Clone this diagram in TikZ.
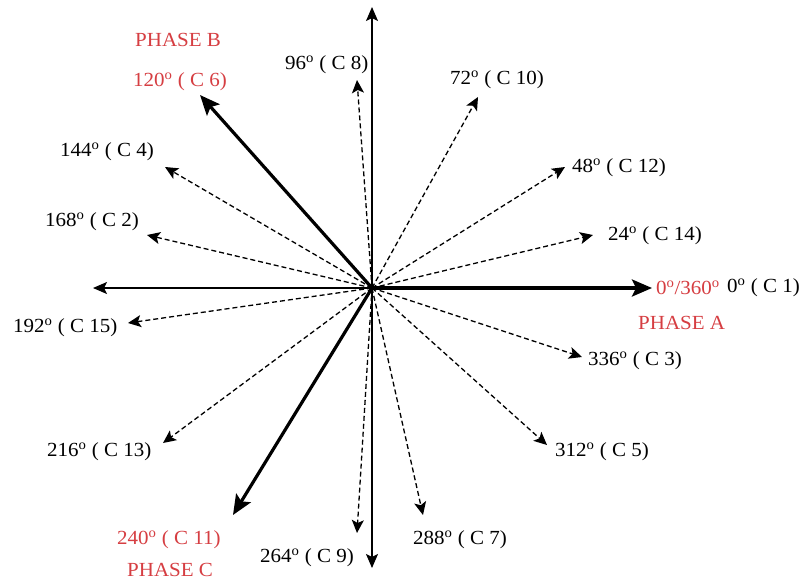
\documentclass[tikz,border=0pt]{standalone}
\usepackage{fontspec}
\setmainfont[FakeStretch=1.05]{Liberation Serif}
\usetikzlibrary{arrows.meta}
\definecolor{phasered}{RGB}{214,62,66}
\newcommand\dg{\textsuperscript{o}}
\tikzset{
  axisarrow/.style={line width=1.4pt,-{Stealth[length=14pt,width=12pt,inset=3pt]}},
  phasearrow/.style={line width=3.2pt,-{Stealth[length=20pt,width=17pt,inset=4pt]}},
  carrow/.style={line width=1.3pt,dash pattern=on 5pt off 3pt,-{Stealth[length=13pt,width=12pt,inset=3pt]}},
  lbl/.style={anchor=west,inner sep=0pt,font=\fontsize{20pt}{22pt}\selectfont},
  redlbl/.style={lbl,text=phasered}
}
\begin{document}
\begin{tikzpicture}[x=1pt,y=-1pt]
\useasboundingbox[fill=white] (0,0) rectangle (811,584);
\coordinate (O) at (372,288);
% tips
\coordinate (tA) at (652,288);
\coordinate (tL) at (93,288);
\coordinate (tT) at (372,7);
\coordinate (tD) at (372,568);
\coordinate (t24) at (593,235);
\coordinate (t336) at (582,357);
\coordinate (t48) at (565,167);
\coordinate (t72) at (478,97);
\coordinate (t96) at (357,80);
\coordinate (t120) at (200,95);
\coordinate (t144) at (165,167);
\coordinate (t168) at (147,235);
\coordinate (t192) at (128,323);
\coordinate (t216) at (163,443);
\coordinate (t240) at (233,515);
\coordinate (t264) at (357,533);
\coordinate (t288) at (423,515);
\coordinate (t312) at (547,445);
% dashed arrows
\foreach \t in {t24,t336,t48,t72,t96,t144,t168,t192,t216,t264,t288,t312}
  \draw[carrow] (O) -- (\t);
% axes
\draw[axisarrow] (O) -- (tL);
\draw[axisarrow] (O) -- (tT);
\draw[axisarrow] (O) -- (tD);
% phases
\draw[phasearrow] (O) -- (tA);
\draw[phasearrow] (O) -- (t120);
\draw[phasearrow] (O) -- (t240);
% labels
\node[redlbl] (lA) at (656,288) {0\dg/360\dg};
\node[lbl] (l0) at (727,288) {0\dg\ ( C 1)};
\node[redlbl] (pA) at (638,323) {PHASE A};
\node[lbl] (l24) at (608,236) {24\dg\ ( C 14)};
\node[lbl] (l336) at (588,361) {336\dg\ ( C 3)};
\node[lbl] (l48) at (572,168) {48\dg\ ( C 12)};
\node[lbl] (l72) at (450,80) {72\dg\ ( C 10)};
\node[lbl] (l96) at (285,65) {96\dg\ ( C 8)};
\node[redlbl] (l120) at (133,82) {120\dg\ ( C 6)};
\node[redlbl] (pB) at (135,40) {PHASE B};
\node[lbl] (l144) at (60,152) {144\dg\ ( C 4)};
\node[lbl] (l168) at (45,222) {168\dg\ ( C 2)};
\node[lbl] (l192) at (13,328) {192\dg\ ( C 15)};
\node[lbl] (l216) at (47,452) {216\dg\ ( C 13)};
\node[redlbl] (l240) at (117,540) {240\dg\ ( C 11)};
\node[redlbl] (pC) at (127,570) {PHASE C};
\node[lbl] (l264) at (260,558) {264\dg\ ( C 9)};
\node[lbl] (l288) at (413,540) {288\dg\ ( C 7)};
\node[lbl] (l312) at (555,452) {312\dg\ ( C 5)};
\end{tikzpicture}
\end{document}
